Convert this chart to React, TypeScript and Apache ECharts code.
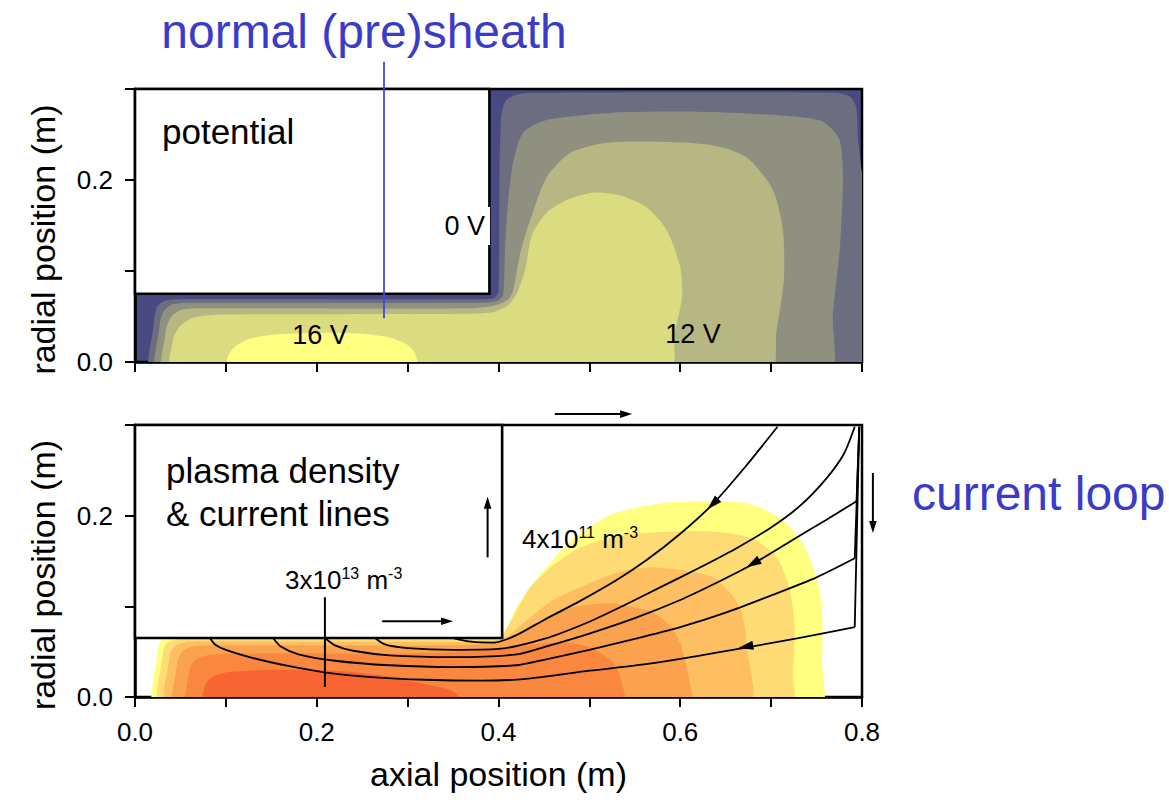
import { useEffect, useRef } from "react";
import * as echarts from "echarts";

const FONT = '"Liberation Sans", Arial, Helvetica, sans-serif';

// ---- axes ----
const X_MIN = 0, X_MAX = 0.8, X_STEP = 0.1;
const Y_MIN = 0, Y_MAX = 0.3, Y_STEP = 0.1;

// ---- electrodes [x0, y0, x1, y1] ----
const topElectrode = [0, 0.075, 0.39, 0.3];
const bottomElectrode = [0, 0.065, 0.404, 0.3];

// ---- potential bands (outer -> inner); navy background is the lowest band ----
const potentialBackground = "#4a4a82";
const potentialColors = ["#6c6d80", "#8f907f", "#b7b784", "#dbdb80", "#fefe80"];
const potBand1: number[][] = [[0.021,-0.02],[0.021,0.045],[0.024,0.06],[0.032,0.067],[0.05,0.069],[0.385,0.069],[0.396,0.071],[0.4,0.078],[0.401,0.2],[0.403,0.27],[0.408,0.287],[0.42,0.294],[0.44,0.296],[0.77,0.296],[0.786,0.292],[0.793,0.282],[0.795,0.26],[0.796,-0.02]];
const potBand2: number[][] = [[0.027,-0.02],[0.027,0.04],[0.031,0.055],[0.04,0.063],[0.06,0.065],[0.38,0.065],[0.398,0.067],[0.405,0.074],[0.407,0.12],[0.41,0.17],[0.416,0.219],[0.427,0.252],[0.453,0.266],[0.526,0.274],[0.62,0.275],[0.71,0.271],[0.755,0.265],[0.775,0.245],[0.779,0.2],[0.776,0.13],[0.768,0.054],[0.761,-0.02]];
const potBand3: number[][] = [[0.034,-0.02],[0.034,0.035],[0.04,0.05],[0.05,0.057],[0.07,0.059],[0.37,0.059],[0.396,0.062],[0.41,0.068],[0.416,0.078],[0.424,0.12],[0.435,0.156],[0.453,0.203],[0.479,0.23],[0.519,0.241],[0.58,0.242],[0.636,0.238],[0.673,0.225],[0.702,0.189],[0.713,0.145],[0.714,0.09],[0.706,0.035],[0.696,-0.02]];
const potBand4: number[][] = [[0.041,-0.02],[0.042,0.025],[0.05,0.04],[0.065,0.049],[0.09,0.052],[0.37,0.053],[0.395,0.055],[0.41,0.062],[0.42,0.075],[0.429,0.1],[0.437,0.14],[0.453,0.164],[0.475,0.178],[0.504,0.186],[0.534,0.183],[0.563,0.17],[0.585,0.145],[0.6,0.104],[0.602,0.072],[0.594,0.032],[0.586,-0.02]];
const potBand5: number[][] = [[0.1,-0.02],[0.102,0.005],[0.11,0.017],[0.125,0.025],[0.15,0.03],[0.2,0.032],[0.25,0.031],[0.28,0.027],[0.298,0.02],[0.308,0.01],[0.311,-0.02]];
const potentialBands = [potBand1, potBand2, potBand3, potBand4, potBand5];

// ---- density bands (outer -> inner) ----
const densityColors = ["#ffff80", "#fedb74", "#fdbf62", "#fba24e", "#fa8740", "#f86432"];
const denBand1: number[][] = [[0.025,-0.02],[0.025,0.05],[0.03,0.065],[0.04,0.07],[0.404,0.07],[0.413,0.085],[0.42,0.099],[0.435,0.122],[0.453,0.143],[0.47,0.163],[0.49,0.18],[0.526,0.202],[0.581,0.214],[0.636,0.216],[0.677,0.213],[0.713,0.195],[0.735,0.169],[0.75,0.132],[0.756,0.096],[0.756,0.041],[0.752,-0.02]];
const denBand2: number[][] = [[0.031,-0.02],[0.031,0.05],[0.036,0.06],[0.05,0.064],[0.39,0.064],[0.405,0.07],[0.42,0.095],[0.435,0.121],[0.46,0.145],[0.49,0.165],[0.53,0.177],[0.563,0.181],[0.622,0.183],[0.677,0.176],[0.706,0.154],[0.72,0.121],[0.726,0.077],[0.724,0.03],[0.72,-0.02]];
const denBand3: number[][] = [[0.038,-0.02],[0.038,0.045],[0.045,0.057],[0.06,0.061],[0.39,0.061],[0.41,0.067],[0.435,0.088],[0.46,0.107],[0.49,0.121],[0.53,0.137],[0.563,0.143],[0.6,0.14],[0.636,0.132],[0.655,0.115],[0.667,0.095],[0.673,0.059],[0.673,-0.02]];
const denBand4: number[][] = [[0.046,-0.02],[0.046,0.035],[0.052,0.05],[0.065,0.056],[0.1,0.057],[0.38,0.058],[0.42,0.068],[0.45,0.085],[0.482,0.099],[0.526,0.103],[0.57,0.093],[0.59,0.077],[0.603,0.05],[0.607,-0.02]];
const denBand5: number[][] = [[0.06,-0.02],[0.06,0.03],[0.068,0.042],[0.085,0.047],[0.15,0.048],[0.3,0.048],[0.4,0.052],[0.44,0.058],[0.471,0.06],[0.5,0.055],[0.523,0.041],[0.534,0.022],[0.537,-0.02]];
const denBand6: number[][] = [[0.075,-0.02],[0.077,0.012],[0.085,0.022],[0.1,0.027],[0.15,0.03],[0.22,0.029],[0.27,0.024],[0.31,0.016],[0.35,0.006],[0.37,-0.02]];
const densityBands = [denBand1, denBand2, denBand3, denBand4, denBand5, denBand6];

// ---- current lines ----
const current1: number[][] = [[0.35,0.065],[0.37,0.061],[0.395,0.06],[0.41,0.064],[0.425,0.071],[0.45,0.085],[0.49,0.106],[0.53,0.129],[0.563,0.151],[0.6,0.18],[0.636,0.213],[0.67,0.252],[0.707,0.298]];
const current2: number[][] = [[0.264,0.065],[0.275,0.058],[0.3,0.054],[0.35,0.052],[0.4,0.053],[0.45,0.064],[0.5,0.083],[0.54,0.102],[0.58,0.122],[0.62,0.142],[0.66,0.163],[0.7,0.187],[0.732,0.211],[0.76,0.24],[0.78,0.268],[0.792,0.298]];
const current3: number[][] = [[0.209,0.065],[0.22,0.057],[0.24,0.051],[0.28,0.046],[0.35,0.044],[0.42,0.047],[0.45,0.055],[0.5,0.07],[0.55,0.087],[0.6,0.107],[0.64,0.126],[0.677,0.145],[0.72,0.171],[0.76,0.195],[0.794,0.216]];
const current4: number[][] = [[0.152,0.065],[0.16,0.056],[0.18,0.047],[0.22,0.04],[0.28,0.035],[0.35,0.033],[0.42,0.035],[0.45,0.041],[0.5,0.052],[0.55,0.064],[0.6,0.077],[0.65,0.093],[0.7,0.112],[0.75,0.132],[0.792,0.153]];
const current5: number[][] = [[0.0825,0.065],[0.088,0.058],[0.1,0.052],[0.13,0.043],[0.17,0.034],[0.21,0.027],[0.26,0.022],[0.32,0.019],[0.38,0.018],[0.43,0.02],[0.5,0.029],[0.56,0.036],[0.6,0.042],[0.64,0.049],[0.669,0.054],[0.73,0.065],[0.792,0.077]];
const currentCurves = [current1, current2, current3, current4, current5];
// straight segments along the right wall
const wall3: number[][] = [[0.794,0.216],[0.797,0.298]];
const wall4: number[][] = [[0.792,0.153],[0.797,0.298]];
const wall5: number[][] = [[0.792,0.077],[0.797,0.298]];
const wallSegments = [wall3, wall4, wall5];

// arrowheads on current lines: [tipX, tipY, tailX, tailY]
const curveArrows: number[][] = [[0.63,0.207,0.645,0.222],[0.673,0.143,0.69,0.153],[0.664,0.054,0.685,0.058]];
// free arrows of the current loop: [x1, y1, x2, y2]
const loopArrows: number[][] = [[0.462,0.312,0.547,0.312],[0.388,0.154,0.388,0.221],[0.812,0.247,0.812,0.181],[0.272,0.0835,0.35,0.0835]];

// annotation lines
const sheathLine: number[][] = [[0.274,0.048],[0.274,0.33]];
const densityLeader: number[][] = [[0.209,0.011],[0.209,0.11]];

function arrowHead(tip: number[], from: number[], len: number, hw: number) {
  const dx = tip[0] - from[0], dy = tip[1] - from[1];
  const d = Math.hypot(dx, dy) || 1;
  const ux = dx / d, uy = dy / d;
  const bx = tip[0] - ux * len, by = tip[1] - uy * len;
  return [tip, [bx - uy * hw, by + ux * hw], [bx + uy * hw, by - ux * hw]];
}

function bandSeries(bands: number[][][], colors: string[], idx: number) {
  return {
    type: "custom",
    xAxisIndex: idx,
    yAxisIndex: idx,
    clip: true,
    silent: true,
    z: 1,
    data: bands.map(() => [0, 0]),
    renderItem: (params: any, api: any) => {
      const pts = bands[params.dataIndex].map((p) => api.coord(p));
      return {
        type: "polygon",
        shape: { points: pts, smooth: 0.25 },
        style: { fill: colors[params.dataIndex], stroke: null },
      };
    },
  };
}

function electrodeSeries(rect: number[], idx: number) {
  return {
    type: "custom",
    xAxisIndex: idx,
    yAxisIndex: idx,
    clip: false,
    silent: true,
    z: 3,
    data: [[0, 0]],
    renderItem: (_p: any, api: any) => {
      const a = api.coord([rect[0], rect[3]]);
      const b = api.coord([rect[2], rect[1]]);
      return {
        type: "rect",
        shape: { x: a[0], y: a[1], width: b[0] - a[0], height: b[1] - a[1] },
        style: { fill: "#ffffff", stroke: "#000000", lineWidth: 2.6 },
      };
    },
  };
}

function lineSeries(data: number[][], idx: number, smooth: number | boolean, color = "#000", width = 1.8, clip = true) {
  return {
    type: "line",
    xAxisIndex: idx,
    yAxisIndex: idx,
    data,
    smooth,
    symbol: "none",
    clip,
    silent: true,
    z: 5,
    lineStyle: { color, width },
  };
}

const tickFmt = (v: number) => {
  const k = Math.round(v * 10);
  return k % 2 === 0 ? (k / 10).toFixed(1) : "";
};

function xAxisCfg(idx: number, labels: boolean) {
  return {
    type: "value",
    gridIndex: idx,
    min: X_MIN,
    max: X_MAX,
    interval: X_STEP,
    axisLine: { show: true, onZero: false, lineStyle: { color: "#000", width: 2.5 } },
    axisTick: { show: true, length: 10, lineStyle: { color: "#000", width: 2 } },
    axisLabel: { show: labels, formatter: tickFmt, margin: 22, color: "#000", fontSize: 26, fontFamily: FONT },
    splitLine: { show: false },
    name: labels ? "axial position (m)" : "",
    nameLocation: "middle",
    nameGap: 60,
    nameTextStyle: { fontSize: 34, color: "#000", fontFamily: FONT },
  };
}

function yAxisCfg(idx: number) {
  return {
    type: "value",
    gridIndex: idx,
    min: Y_MIN,
    max: Y_MAX,
    interval: Y_STEP,
    axisLine: { show: true, onZero: false, lineStyle: { color: "#000", width: 2.5 } },
    axisTick: { show: true, length: 10, lineStyle: { color: "#000", width: 2 } },
    axisLabel: { show: true, formatter: tickFmt, margin: 22, color: "#000", fontSize: 26, fontFamily: FONT },
    splitLine: { show: false },
    name: "radial position (m)",
    nameLocation: "middle",
    nameGap: 75,
    nameTextStyle: { fontSize: 34, color: "#000", fontFamily: FONT, padding: [0, 28, 0, 0] },
  };
}

function txt(text: string, x: number, y: number, size: number, align = "left", extra: any = {}) {
  return {
    type: "text",
    x,
    y,
    z: 100,
    silent: true,
    style: {
      text,
      fill: extra.fill || "#000",
      font: `${size}px ${FONT}`,
      textAlign: align,
      align,
      textVerticalAlign: extra.v || "middle",
      verticalAlign: extra.v || "middle",
      ...(extra.style || {}),
    },
  };
}

const richStyle = {
  b: { fontSize: 26, lineHeight: 28, fontFamily: FONT, verticalAlign: "bottom", fill: "#000" },
  s: { fontSize: 16, lineHeight: 16, fontFamily: FONT, verticalAlign: "top", fill: "#000" },
};

export default function App() {
  const ref = useRef<HTMLDivElement>(null);
  useEffect(() => {
    if (!ref.current) return;
    const chart = echarts.init(ref.current, undefined, { renderer: "svg" });
    const series: any[] = [
      bandSeries(potentialBands, potentialColors, 0),
      electrodeSeries(topElectrode, 0),
      bandSeries(densityBands, densityColors, 1),
      electrodeSeries(bottomElectrode, 1),
      ...currentCurves.map((c) => lineSeries(c, 1, 0.25)),
      ...wallSegments.map((c) => lineSeries(c, 1, false)),
      lineSeries(sheathLine, 0, false, "#4646dc", 1.8, false),
      lineSeries(densityLeader, 1, false, "#000", 2),
      {
        type: "custom",
        xAxisIndex: 1,
        yAxisIndex: 1,
        clip: false,
        silent: true,
        z: 6,
        data: curveArrows.map(() => [0, 0]),
        renderItem: (params: any, api: any) => {
          const a = curveArrows[params.dataIndex];
          const tip = api.coord([a[0], a[1]]);
          const from = api.coord([a[2], a[3]]);
          return { type: "polygon", shape: { points: arrowHead(tip, from, 15, 4.5) }, style: { fill: "#000" } };
        },
      },
      {
        type: "custom",
        xAxisIndex: 1,
        yAxisIndex: 1,
        clip: false,
        silent: true,
        z: 6,
        data: loopArrows.map(() => [0, 0]),
        renderItem: (params: any, api: any) => {
          const a = loopArrows[params.dataIndex];
          const p1 = api.coord([a[0], a[1]]);
          const p2 = api.coord([a[2], a[3]]);
          const head = arrowHead(p2, p1, 12, 3.8);
          const dx = p2[0] - p1[0], dy = p2[1] - p1[1];
          const d = Math.hypot(dx, dy) || 1;
          const end = [p2[0] - (dx / d) * 10, p2[1] - (dy / d) * 10];
          return {
            type: "group",
            children: [
              { type: "line", shape: { x1: p1[0], y1: p1[1], x2: end[0], y2: end[1] }, style: { stroke: "#000", lineWidth: 2 } },
              { type: "polygon", shape: { points: head }, style: { fill: "#000" } },
            ],
          };
        },
      },
    ];

    chart.setOption({
      animation: false,
      backgroundColor: "#ffffff",
      textStyle: { fontFamily: FONT },
      grid: [
        { left: 135, top: 89, width: 727, height: 273, show: true, backgroundColor: potentialBackground, borderColor: "#000", borderWidth: 2.5 },
        { left: 135, top: 425, width: 727, height: 272, show: true, backgroundColor: "#ffffff", borderColor: "#000", borderWidth: 2.5 },
      ],
      xAxis: [xAxisCfg(0, false), xAxisCfg(1, true)],
      yAxis: [yAxisCfg(0), yAxisCfg(1)],
      series,
      graphic: [
        txt("normal (pre)sheath", 364, 31, 48, "center", { fill: "#3b3bc9" }),
        txt("current loop", 912, 493, 48, "left", { fill: "#3b3bc9" }),
        txt("potential", 162, 131, 35),
        txt("0 V", 490, 226, 27, "right", { style: { backgroundColor: "#fff", padding: [6, 5, 5, 3] } }),
        txt("16 V", 320, 335, 27, "center"),
        txt("12 V", 693, 334, 27, "center"),
        txt("plasma density", 166, 470, 35),
        txt("& current lines", 166, 513, 35),
        {
          type: "text",
          x: 285,
          y: 565,
          z: 100,
          silent: true,
          style: { text: "{b|3x10}{s|13}{b| m}{s|-3}", rich: richStyle, align: "left", verticalAlign: "top", textAlign: "left", textVerticalAlign: "top" },
        },
        {
          type: "text",
          x: 522,
          y: 524,
          z: 100,
          silent: true,
          style: { text: "{b|4x10}{s|11}{b| m}{s|-3}", rich: richStyle, align: "left", verticalAlign: "top", textAlign: "left", textVerticalAlign: "top" },
        },
      ],
    });
    return () => chart.dispose();
  }, []);
  return <div ref={ref} style={{ position: "fixed", left: 0, top: 0, width: 1169, height: 803 }} />;
}
